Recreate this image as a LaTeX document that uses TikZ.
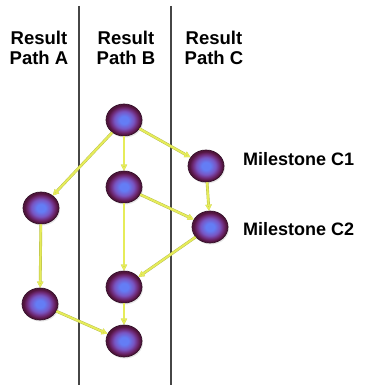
\documentclass[tikz,border=0pt]{standalone}
\usepackage{fontspec}
\setmainfont{Liberation Sans}
\usetikzlibrary{arrows.meta,shapes.geometric,shadows}
\definecolor{ballcore}{RGB}{100,125,245}
\definecolor{ballmid}{RGB}{120,85,195}
\definecolor{ballouter}{RGB}{110,40,115}
\definecolor{ballrim}{RGB}{80,20,60}
\definecolor{ballline}{RGB}{50,15,40}
\definecolor{linkyellow}{RGB}{230,236,90}
\definecolor{linkedge}{RGB}{180,186,72}
\definecolor{divider}{RGB}{70,70,70}
% the shape's own edge sits at 25bp of the shading
\pgfdeclareradialshading{milestoneball}{\pgfpoint{0bp}{0bp}}{color(0bp)=(ballcore); color(6bp)=(ballcore); color(13.5bp)=(ballmid); color(19bp)=(ballouter); color(23bp)=(ballrim); color(50bp)=(ballrim)}
\tikzset{
  ball/.style={ellipse, minimum width=36pt, minimum height=32pt, inner sep=0pt,
    shading=milestoneball, draw=ballline, line width=0.7pt,
    drop shadow={opacity=0.2, shadow xshift=1pt, shadow yshift=-1.5pt}},
  link/.style={draw=linkyellow, line width=2pt,
    preaction={draw=linkedge, line width=2.8pt},
    -{Triangle[length=6pt,width=6pt,fill=linkedge]}},
  header/.style={font=\bfseries\fontsize{18.5}{19.5}\selectfont, align=center, inner sep=0pt},
  caption/.style={font=\bfseries\fontsize{18}{20}\selectfont, anchor=west, inner sep=0pt},
  divline/.style={draw=divider, line width=1.4pt}
}
\begin{document}
\begin{tikzpicture}[x=1pt, y=-1pt]
  \useasboundingbox (0,0) rectangle (366,385);
  % column dividers
  \coordinate (d1t) at (79,6);  \coordinate (d1b) at (79,385);
  \coordinate (d2t) at (171,6); \coordinate (d2b) at (171,385);
  \draw[divline] (d1t) -- (d1b);
  \draw[divline] (d2t) -- (d2b);
  % column headers
  \node[header] (ha) at (39,48)  {Result\\Path A};
  \node[header] (hb) at (126,48) {Result\\Path B};
  \node[header] (hc) at (214,48) {Result\\Path C};
  % milestones
  \node[ball] (b1) at (124,120) {};
  \node[ball] (b2) at (124,187) {};
  \node[ball] (b3) at (124,287) {};
  \node[ball] (b4) at (124,341) {};
  \node[ball] (a1) at (41,208) {};
  \node[ball] (a2) at (40,304) {};
  \node[ball] (c1) at (206,166) {};
  \node[ball] (c2) at (210,227) {};
  \node[caption] (lc1) at (243,159) {Milestone C1};
  \node[caption] (lc2) at (243,229) {Milestone C2};
  % dependencies
  \draw[link] (b1) -- (a1);
  \draw[link] (b1) -- (b2);
  \draw[link] (b1) -- (c1);
  \draw[link] (b2) -- (b3);
  \draw[link] (b2) -- (c2);
  \draw[link] (c1) -- (c2);
  \draw[link] (c2) -- (b3);
  \draw[link] (a1) -- (a2);
  \draw[link] (a2) -- (b4);
  \draw[link] (b3) -- (b4);
\end{tikzpicture}
\end{document}
